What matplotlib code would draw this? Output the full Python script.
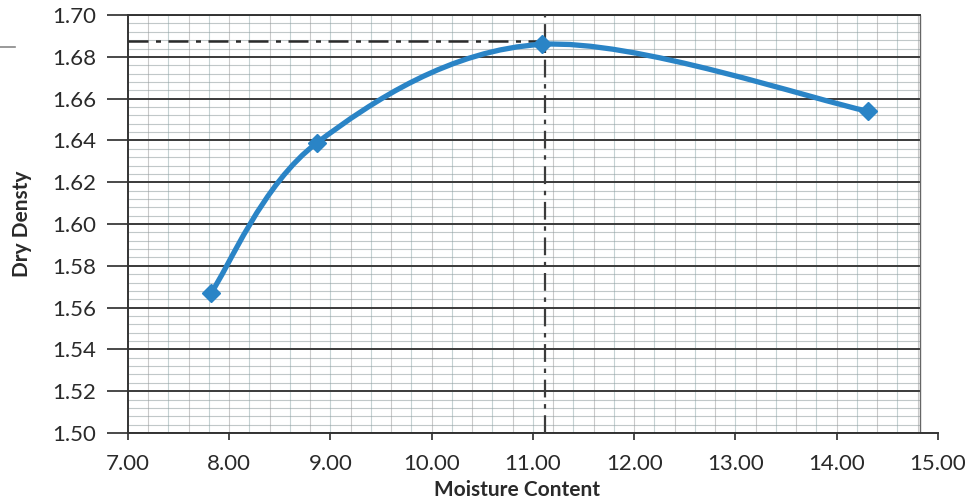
import numpy as np
import matplotlib.pyplot as plt
from matplotlib.path import Path
from matplotlib.patches import PathPatch
from matplotlib.lines import Line2D

# data
moisture = [7.82, 8.87, 11.09, 14.31]
dry_density = [1.567, 1.639, 1.686, 1.654]
x_ticks = [7, 8, 9, 10, 11, 12, 13, 14, 15]
y_ticks = [1.50, 1.52, 1.54, 1.56, 1.58, 1.60, 1.62, 1.64, 1.66, 1.68, 1.70]
omc = 11.12          # optimum moisture content (vertical dashed)
mdd = 1.6876         # max dry density (horizontal dashed)

plt.rcParams['font.family'] = ['Lato', 'DejaVu Sans']

fig = plt.figure(figsize=(9.79, 5.04), dpi=100)
ax = fig.add_axes([0.1307, 0.1409, 0.958 - 0.1307, 0.970 - 0.1409])
ax.set_xlim(7, 15)
ax.set_ylim(1.50, 1.70)

# graph paper look
paper_right = 14.82
for i, v in enumerate(np.arange(7.2, paper_right, 0.2)):
    c = '#9fb4b6' if i % 2 else '#a7a7a7'
    ax.vlines(v, 1.50, 1.70, color=c, lw=0.8, alpha=0.6, zorder=1)
for h in np.arange(1.504, 1.70, 0.004):
    if abs((h - 1.50) / 0.02 - round((h - 1.50) / 0.02)) < 1e-6:
        continue
    ax.hlines(h, 7, paper_right, color='#8f9c9e', lw=0.8, alpha=0.55, zorder=1)
for h in y_ticks:
    ax.hlines(h, 7, paper_right, color='#3a3a3a', lw=1.4, zorder=2)
ax.vlines(paper_right, 1.50, 1.70, color='#666666', lw=1.0, zorder=2)

# optimum markers, hand drawn dashed lines
ax.plot([7, omc], [mdd, mdd], color='#2b2b2b', lw=1.8, ls=(0, (8, 3, 2, 3)), zorder=3)
ax.plot([omc, omc], [1.50, 1.70], color='#3b3b3b', lw=1.6, ls=(0, (8, 3, 2, 3)), zorder=3)

# smoothed curve (Excel-style Bezier through the points)
pts = np.column_stack([moisture, dry_density])
ext = np.vstack([pts[0], pts, pts[-1]])
verts = [tuple(pts[0])]
codes = [Path.MOVETO]
for i in range(len(pts) - 1):
    p0, p1, p2, p3 = ext[i], ext[i + 1], ext[i + 2], ext[i + 3]
    c1 = p1 + (p2 - p0) / 6.0
    c2 = p2 - (p3 - p1) / 6.0
    verts += [tuple(c1), tuple(c2), tuple(p2)]
    codes += [Path.CURVE4] * 3
curve = PathPatch(Path(verts, codes), facecolor='none', edgecolor='#2a84c6',
                  lw=3.8, transform=ax.transData, zorder=5, capstyle='round')
ax.add_patch(curve)
ax.plot(moisture, dry_density, ls='none', marker='D', ms=9, color='#2a84c6', zorder=6)

# axes styling
ax.set_xticks(x_ticks)
ax.set_xticklabels(['%.2f' % v for v in x_ticks])
ax.set_yticks(y_ticks)
ax.set_yticklabels(['%.2f' % v for v in y_ticks])
ax.tick_params(axis='y', length=15, width=1.3, color='#3a3a3a', pad=8, labelsize=16,
               labelcolor='#2a2a2a')
ax.tick_params(axis='x', length=5, width=1.3, color='#3a3a3a', pad=10, labelsize=16,
               labelcolor='#2a2a2a')
ax.spines['right'].set_visible(False)
ax.spines['top'].set_bounds(7, paper_right)
for s in ['left', 'bottom', 'top']:
    ax.spines[s].set_color('#333333')
    ax.spines[s].set_linewidth(1.4)

ax.set_xlabel('Moisture Content', fontsize=15, fontweight='bold', color='#2a2a2a')
ax.xaxis.set_label_coords(0.48, -0.112)
ax.set_ylabel('Dry Densty', fontsize=15, fontweight='bold', color='#2a2a2a')
ax.yaxis.set_label_coords(-0.118, 0.5)

# scan artefact at top left
fig.add_artist(Line2D([0, 15 / 979], [1 - 47 / 504, 1 - 47 / 504], color='#888888', lw=1.2))

fig.savefig('out.png', dpi=100)
